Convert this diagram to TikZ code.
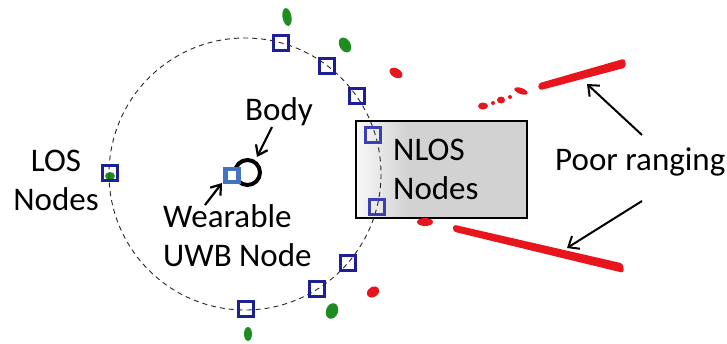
\documentclass[tikz,border=0pt]{standalone}
\usepackage{fontspec}
\setmainfont{Carlito}
\usetikzlibrary{arrows.meta}
\definecolor{navy}{RGB}{30,30,150}
\definecolor{navylt}{RGB}{62,62,180}
\definecolor{wblue}{RGB}{68,114,196}
\definecolor{ptred}{RGB}{232,22,28}
\definecolor{ptgreen}{RGB}{30,140,30}
\definecolor{boxgray}{RGB}{210,210,210}
\begin{document}
\begin{tikzpicture}[x=1pt,y=-1pt,
  anchorbox/.style={draw=navy, line width=2.5pt, fill=none, minimum size=15pt, inner sep=0pt},
  lbl/.style={font=\fontsize{33}{39}\selectfont, inner sep=0pt},
  pointer/.style={line width=2.2pt, -{Straight Barb[length=9pt,width=13pt]}},
  longpointer/.style={line width=2pt, -{Straight Barb[length=9pt,width=15pt]}},
  redpt/.style={fill=ptred},
  greenpt/.style={fill=ptgreen}]
\useasboundingbox (0,0) rectangle (727,343);

% NLOS box
\fill[boxgray] (356,121) rectangle (527,218);
\shade[left color=white!85!boxgray, right color=boxgray] (357,122) rectangle (407,217);
\node[draw=black, line width=1.2pt, minimum width=171pt, minimum height=97pt, inner sep=0pt] (box) at (441.5,169.5) {};

% red point clouds
\fill[redpt, rounded corners=3pt] (538,83.5) -- (625,58.5) -- (626,67.5) -- (539,90.5) -- cycle;
\fill[redpt] (483,106) ellipse [x radius=5, y radius=3.5];
\fill[redpt] (493,103) circle [radius=2];
\fill[redpt] (501,100) ellipse [x radius=4, y radius=3.5];
\fill[redpt] (510,97) circle [radius=2];
\fill[redpt, rotate around={-20:(521,91)}] (521,91) ellipse [x radius=7, y radius=3];
\fill[redpt, rounded corners=3pt] (453,224.5) -- (623,263.5) -- (624,273) -- (453,231.5) -- cycle;
\fill[redpt] (425,222) ellipse [x radius=8, y radius=4];
\fill[redpt, rotate around={-30:(396,73)}] (396,73) ellipse [x radius=7, y radius=4.5];
\fill[redpt, rotate around={35:(373,292)}] (373,292) ellipse [x radius=6.5, y radius=5];

% green point clouds
\fill[greenpt, rotate around={10:(287,17)}] (287,17) ellipse [x radius=4.5, y radius=9];
\fill[greenpt, rotate around={30:(345,45)}] (345,45) ellipse [x radius=5.5, y radius=8];
\fill[greenpt, rotate around={-20:(332,311)}] (332,311) ellipse [x radius=6, y radius=8];
\fill[greenpt] (248,334) ellipse [x radius=4, y radius=7];
\fill[greenpt] (110,176) ellipse [x radius=5, y radius=4];

% dashed ring
\draw[black!85, line width=0.9pt, dash pattern=on 5pt off 4pt] (245,174) circle [radius=136];

% anchor nodes
\node[anchorbox] (a1) at (281,43) {};
\node[anchorbox] (a2) at (327,66) {};
\node[anchorbox] (a3) at (357,96) {};
\node[anchorbox, draw=navylt] (a4) at (373,135) {};
\node[anchorbox, draw=navylt] (a5) at (377,207) {};
\node[anchorbox] (a6) at (348,263) {};
\node[anchorbox] (a7) at (317,289) {};
\node[anchorbox] (a8) at (246,309) {};
\node[anchorbox] (a9) at (110,173) {};

% body and wearable
\node[draw=black, line width=4pt, circle, minimum size=25pt, inner sep=0pt] (bodyc) at (247.5,172.5) {};
\node[draw=wblue, fill=white, line width=4.5pt, minimum size=13pt, inner sep=0pt] (wear) at (232,175.5) {};

% labels (base anchor = baseline of the last line)
\node[lbl, anchor=base, align=center] (los) at (56,210) {LOS\\Nodes};
\node[lbl, anchor=base west] (bodyl) at (245,120) {Body};
\node[lbl, anchor=base west, align=left] (wearl) at (163,266) {Wearable\\UWB Node};
\node[lbl, anchor=base west, align=left] (nlos) at (393,199) {NLOS\\Nodes};
\node[lbl, anchor=base west] (poor) at (555,170) {Poor ranging};

% arrows
\coordinate (bodyfrom) at (272,127);
\coordinate (bodyto) at (257,157);
\coordinate (wearfrom) at (205,205);
\coordinate (wearto) at (222,183);
\coordinate (pupfrom) at (642,135);
\coordinate (pupto) at (587,84);
\coordinate (pdnfrom) at (642,201);
\coordinate (pdnto) at (567,248);
\draw[pointer] (bodyfrom) -- (bodyto);
\draw[pointer] (wearfrom) -- (wearto);
\draw[longpointer] (pupfrom) -- (pupto);
\draw[longpointer] (pdnfrom) -- (pdnto);
\end{tikzpicture}
\end{document}
